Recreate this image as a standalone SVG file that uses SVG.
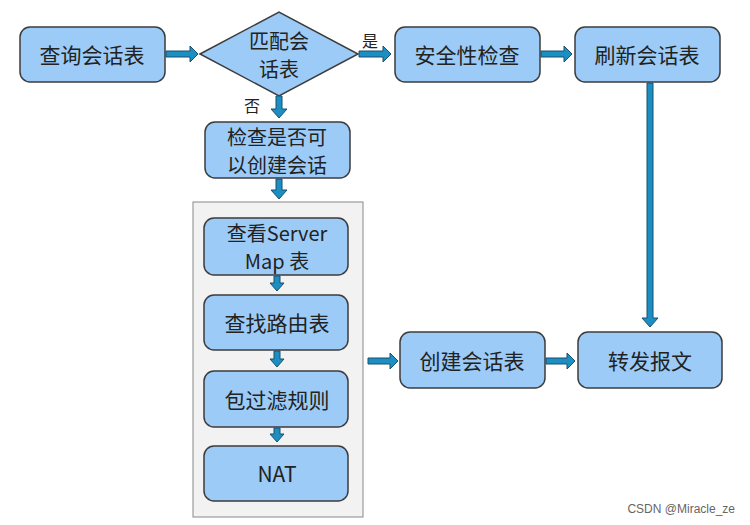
<svg xmlns="http://www.w3.org/2000/svg" width="750" height="525" viewBox="0 0 750 525">
<style>
.n{fill:#9ccbf7;stroke:#3c3c3c;stroke-width:1.5}
.t{font-family:"Noto Sans CJK SC","Liberation Sans",sans-serif;font-size:21px;fill:#222;text-anchor:middle;dominant-baseline:central}
.s{font-size:20px}
.a{fill:#1b8ec2;stroke:#1d4f6e;stroke-width:1}
.l{font-family:"Noto Sans CJK SC",sans-serif;font-size:16px;fill:#222}
</style>
<rect width="750" height="525" fill="#fff"/>
<rect x="193" y="202" width="170" height="315" fill="#f2f2f2" stroke="#888" stroke-width="1"/>
<g id="n1"><rect class="n" x="20" y="27" width="145" height="55" rx="10"/><text class="t" x="92" y="54">查询会话表</text></g>
<g id="n2"><polygon class="n" points="200,54 279,12 358,54 279,96"/><text class="t s" x="279" y="40">匹配会</text><text class="t s" x="279" y="68">话表</text></g>
<g id="n3"><rect class="n" x="395" y="27" width="145" height="55" rx="10"/><text class="t" x="467" y="54">安全性检查</text></g>
<g id="n4"><rect class="n" x="575" y="27" width="145" height="55" rx="10"/><text class="t" x="647" y="54">刷新会话表</text></g>
<g id="n5"><rect class="n" x="205" y="122" width="145" height="56" rx="10"/><text class="t s" x="277" y="136">检查是否可</text><text class="t s" x="277" y="164">以创建会话</text></g>
<g id="n6"><rect class="n" x="204" y="218" width="144" height="57" rx="10"/><text class="t s" x="277" y="232">查看Server</text><text class="t s" x="277" y="260">Map 表</text></g>
<g id="n7"><rect class="n" x="204" y="295" width="144" height="55" rx="10"/><text class="t" x="277" y="322">查找路由表</text></g>
<g id="n8"><rect class="n" x="204" y="371" width="144" height="56" rx="10"/><text class="t" x="277" y="399">包过滤规则</text></g>
<g id="n9"><rect class="n" x="204" y="446" width="144" height="55" rx="10"/><text class="t" x="277" y="473">NAT</text></g>
<g id="n10"><rect class="n" x="400" y="332" width="145" height="56" rx="10"/><text class="t" x="472" y="360">创建会话表</text></g>
<g id="n11"><rect class="n" x="578" y="332" width="144" height="56" rx="10"/><text class="t" x="650" y="360">转发报文</text></g>
<g id="connectors">
<polygon class="a" points="166,51 190,51 190,46 198,54 190,62 190,57 166,57"/>
<polygon class="a" points="359,51 383,51 383,46 391,54 383,62 383,57 359,57"/>
<polygon class="a" points="541,51 564,51 564,46 572,54 564,62 564,57 541,57"/>
<polygon class="a" points="276,96 276,109 271,109 279,118 287,109 282,109 282,96"/>
<polygon class="a" points="276,179 276,190 271,190 279,199 287,190 282,190 282,179"/>
<polygon class="a" points="274,276 274,283 270,283 277,291 284,283 280,283 280,276"/>
<polygon class="a" points="274,351 274,359 270,359 277,367 284,359 280,359 280,351"/>
<polygon class="a" points="274,428 274,434 270,434 277,442 284,434 280,434 280,428"/>
<polygon class="a" points="647,83 647,318 642,318 650,327 658,318 653,318 653,83"/>
<polygon class="a" points="368,358 390,358 390,353 398,361 390,369 390,364 368,364"/>
<polygon class="a" points="546,358 567,358 567,353 575,361 567,369 567,364 546,364"/>
</g>
<text class="l" x="362" y="47">是</text>
<text class="l" x="244" y="112">否</text>
<text x="735" y="513" font-family="Liberation Sans,sans-serif" font-size="12" fill="#666" text-anchor="end">CSDN @Miracle_ze</text>
</svg>
